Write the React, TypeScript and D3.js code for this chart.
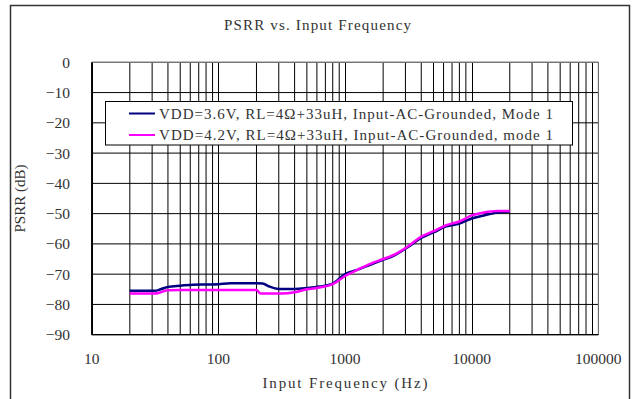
import React from "react";
import * as d3 from "d3";

const freqA = [20, 25, 31.5, 35, 40, 50, 63, 80, 100, 125, 160, 200, 224, 250, 300, 400, 500, 630, 800, 1000, 1250, 1600, 2000, 2500, 3150, 4000, 5000, 6300, 8000, 10000, 12500, 16000, 20000];
const vdd36 = [-75.5, -75.5, -75.5, -75.0, -74.2, -73.8, -73.5, -73.4, -73.3, -73.0, -73.0, -73.0, -73.1, -74.0, -74.9, -74.9, -74.6, -74.1, -73.1, -70.0, -68.6, -66.8, -65.3, -63.6, -61.0, -58.0, -56.2, -54.2, -53.3, -51.6, -50.6, -49.6, -49.3];
const freqB = [20, 25, 31.5, 35, 40, 50, 63, 80, 100, 125, 160, 200, 215, 250, 315, 400, 500, 630, 800, 1000, 1250, 1600, 2000, 2500, 3150, 4000, 5000, 6300, 8000, 10000, 12500, 16000, 20000];
const vdd42 = [-76.4, -76.4, -76.4, -76.0, -75.3, -75.2, -75.2, -75.2, -75.2, -75.2, -75.2, -75.2, -76.4, -76.4, -76.4, -76.0, -75.0, -74.4, -73.3, -70.6, -68.6, -66.5, -65.0, -63.4, -60.8, -57.6, -55.8, -53.8, -52.6, -50.6, -49.6, -49.1, -49.1];

const seriesNames = [
  "VDD=3.6V, RL=4Ω+33uH, Input-AC-Grounded, Mode 1",
  "VDD=4.2V, RL=4Ω+33uH, Input-AC-Grounded, mode 1",
];
const seriesColors = ["#000080", "#FF00FF"];
const xTicks = [10, 100, 1000, 10000, 100000];
const yTicks = [0, -10, -20, -30, -40, -50, -60, -70, -80, -90];
const title = "PSRR vs. Input Frequency";
const xTitle = "Input Frequency (Hz)";
const yTitle = "PSRR (dB)";

const W = 634, H = 399;
const L = 91.7, R = 598.3, T = 62.3, B = 334.7;
const FONT = "'Liberation Serif', 'DejaVu Serif', serif";
const TXT = "#333";

export default function App() {
  const x = d3.scaleLog().domain([10, 100000]).range([L, R]);
  const y = d3.scaleLinear().domain([0, -90]).range([T, B]);
  const minor: number[] = [];
  for (let d = 10; d < 100000; d *= 10) for (let k = 2; k <= 9; k++) minor.push(d * k);
  const line = d3.line<[number, number]>().x(d => x(d[0])).y(d => y(d[1])).curve(d3.curveMonotoneX);
  const dataA = freqA.map((f, i) => [f, vdd36[i]] as [number, number]);
  const dataB = freqB.map((f, i) => [f, vdd42[i]] as [number, number]);
  const fmtY = (v: number) => (v < 0 ? "\u2212" + Math.abs(v) : String(v));
  return (
    <svg width={W} height={H} style={{ position: "absolute", left: 0, top: 0, background: "#fff" }}>
      <rect x={10.5} y={5.5} width={619} height={420} fill="#fff" stroke="#333" strokeWidth={1.5} />
      <text x={317.5} y={30} textAnchor="middle" fontFamily={FONT} fontSize={15} fill={TXT} textLength={187} lengthAdjust="spacing">{title}</text>
      {minor.map(v => (
        <line key={"m" + v} x1={x(v)} x2={x(v)} y1={T} y2={B} stroke="#000" strokeWidth={1} />
      ))}
      {xTicks.map(v => (
        <line key={"M" + v} x1={Math.round(x(v)) + 0.5} x2={Math.round(x(v)) + 0.5} y1={T} y2={B} stroke="#000" strokeWidth={1} />
      ))}
      {yTicks.map(v => (
        <line key={"h" + v} x1={L} x2={R} y1={y(v)} y2={y(v)} stroke="#000" strokeWidth={1} />
      ))}
      <line x1={L} x2={R} y1={T} y2={T} stroke="#888" strokeWidth={1} />
      <line x1={R} x2={R} y1={T} y2={B} stroke="#888" strokeWidth={1} />
      <line x1={L} x2={L} y1={T} y2={B} stroke="#000" strokeWidth={1.3} />
      <line x1={L} x2={R} y1={B} y2={B} stroke="#000" strokeWidth={1.3} />
      {yTicks.map(v => (
        <text key={"yt" + v} x={70} y={y(v) + 5.5} textAnchor="end" fontFamily={FONT} fontSize={15.5} fill={TXT}>{fmtY(v)}</text>
      ))}
      {xTicks.map(v => (
        <text key={"xt" + v} x={x(v)} y={363.5} textAnchor="middle" fontFamily={FONT} fontSize={15.5} fill={TXT}>{String(v)}</text>
      ))}
      <text x={(L + R) / 2} y={388} textAnchor="middle" fontFamily={FONT} fontSize={15} fill={TXT} textLength={165} lengthAdjust="spacing">{xTitle}</text>
      <text transform={`translate(25,${(T + B) / 2}) rotate(-90)`} textAnchor="middle" fontFamily={FONT} fontSize={15} fill={TXT} textLength={68} lengthAdjust="spacing">{yTitle}</text>
      <path d={line(dataA) || ""} fill="none" stroke={seriesColors[0]} strokeWidth={2.5} />
      <path d={line(dataB) || ""} fill="none" stroke={seriesColors[1]} strokeWidth={2.5} />
      <rect x={105.5} y={101.5} width={467} height={43.5} fill="#fff" stroke="#000" strokeWidth={1} />
      {seriesNames.map((n, i) => (
        <g key={n}>
          <line x1={129} x2={155} y1={113.5 + i * 21.5} y2={113.5 + i * 21.5} stroke={seriesColors[i]} strokeWidth={2} />
          <text x={159} y={118.5 + i * 21.5} fontFamily={FONT} fontSize={15} fill={TXT} textLength={394} lengthAdjust="spacing">{n}</text>
        </g>
      ))}
    </svg>
  );
}
